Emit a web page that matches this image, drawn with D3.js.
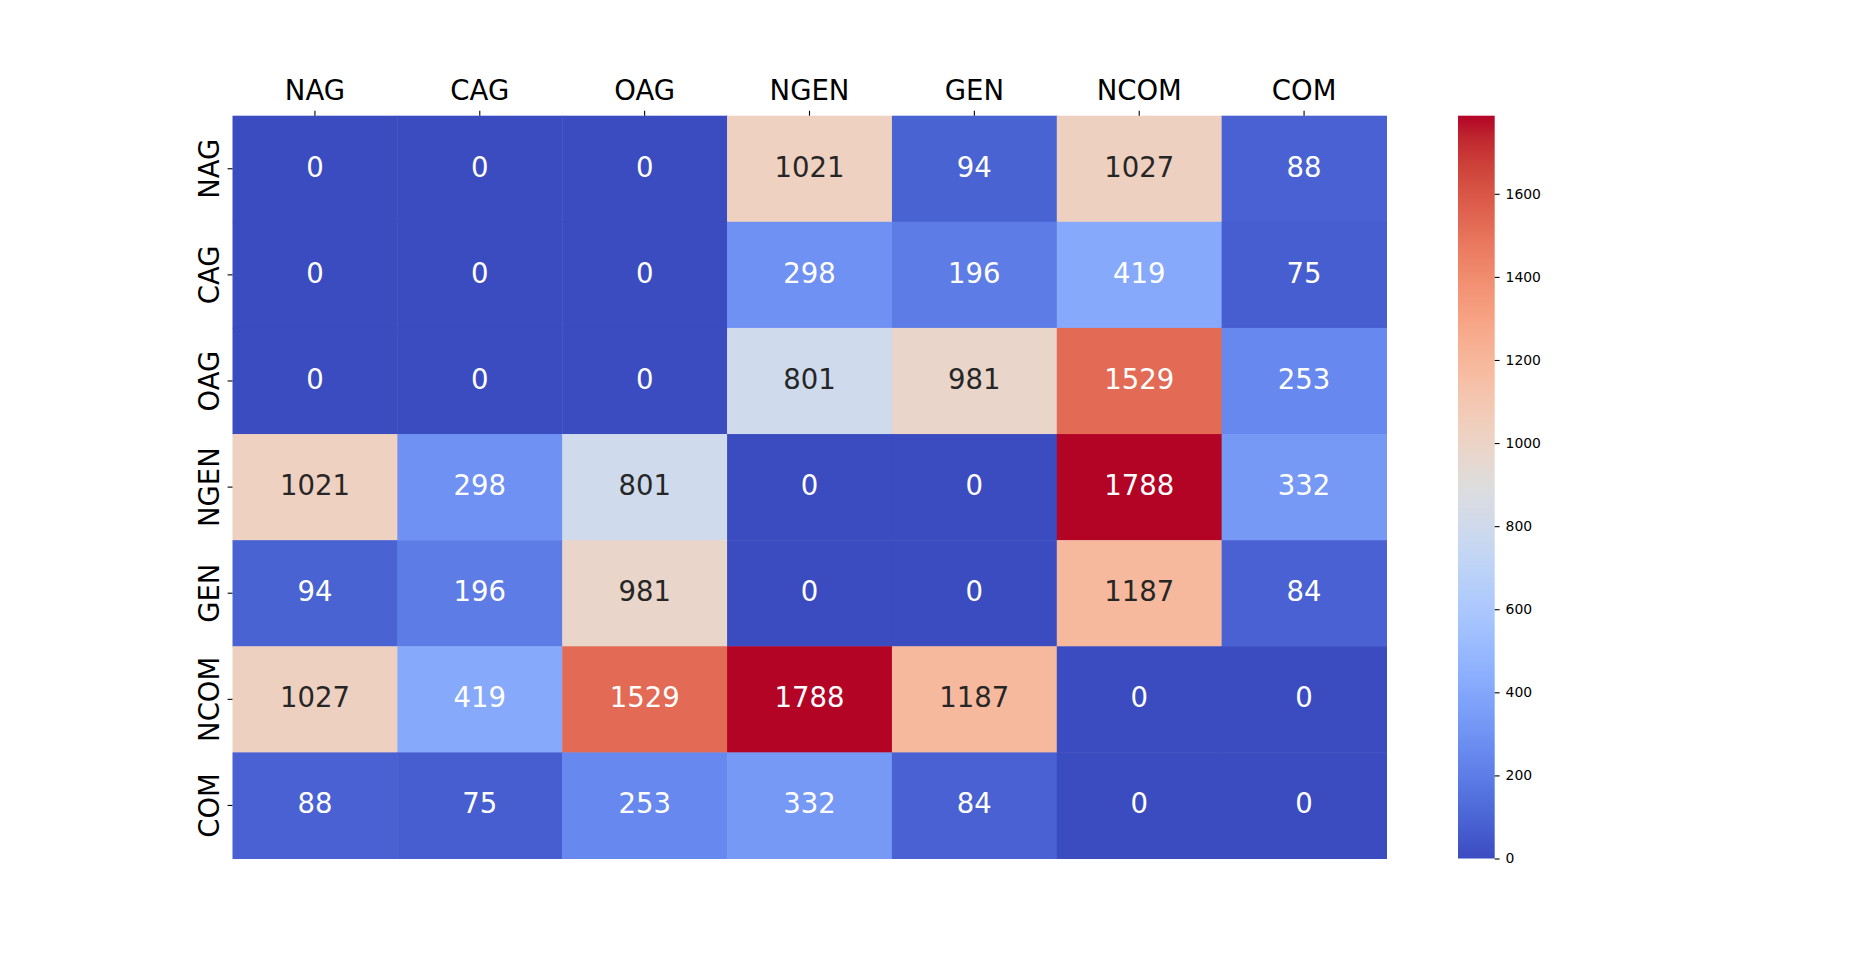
<!DOCTYPE html>
<html>
<head>
<meta charset="utf-8">
<script src="https://cdn.jsdelivr.net/npm/d3@7"></script>
<style>
  body { margin: 0; background: #fff; }
  text { font-family: "DejaVu Sans", sans-serif; }
</style>
</head>
<body>
<div id="canvas"></div>
<script>
var labels = ["NAG", "CAG", "OAG", "NGEN", "GEN", "NCOM", "COM"]

var rowNAG  = [0, 0, 0, 1021, 94, 1027, 88]
var rowCAG  = [0, 0, 0, 298, 196, 419, 75]
var rowOAG  = [0, 0, 0, 801, 981, 1529, 253]
var rowNGEN = [1021, 298, 801, 0, 0, 1788, 332]
var rowGEN  = [94, 196, 981, 0, 0, 1187, 84]
var rowNCOM = [1027, 419, 1529, 1788, 1187, 0, 0]
var rowCOM  = [88, 75, 253, 332, 84, 0, 0]

var colorbarTicks = [0, 200, 400, 600, 800, 1000, 1200, 1400, 1600]

var rows = [rowNAG, rowCAG, rowOAG, rowNGEN, rowGEN, rowNCOM, rowCOM]

// coolwarm (Moreland) control points, 33 steps
var coolwarm = [
  [59,76,192],[68,90,204],[77,104,215],[87,117,225],[98,130,234],[108,142,241],
  [119,154,247],[130,165,251],[141,176,254],[152,185,255],[163,194,255],[174,201,253],
  [184,208,249],[194,213,244],[204,217,238],[213,219,230],[221,221,221],[229,216,209],
  [236,211,197],[241,204,185],[245,196,173],[247,187,160],[247,177,148],[247,166,135],
  [244,154,123],[241,141,111],[236,127,99],[229,112,88],[222,96,77],[213,80,66],
  [203,62,56],[192,40,47],[180,4,38]
]

var width = 1860
var height = 965
// note: "top" is a reserved window prop, so use plot* names
var plotLeft = 232.5, plotRight = 1386.5, plotTop = 115.7, plotBottom = 858.5
var cbLeft = 1458, cbRight = 1494.7

var svg = d3.select("#canvas")
    .append("svg")
    .attr("width", width)
    .attr("height", height)

var vmin = 0
var vmax = d3.max(rows, function (r) { return d3.max(r) })

function cmapRaw(t) {
    t = Math.max(0, Math.min(1, t))
    var p = t * (coolwarm.length - 1)
    var i = Math.min(Math.floor(p), coolwarm.length - 2)
    var f = p - i
    var a = coolwarm[i], b = coolwarm[i + 1]
    return [a[0] + (b[0] - a[0]) * f, a[1] + (b[1] - a[1]) * f, a[2] + (b[2] - a[2]) * f]
}

// matplotlib-like 256 lookup
function cmap(v) {
    var t = (v - vmin) / (vmax - vmin)
    var idx = Math.min(255, Math.floor(t * 256))
    return cmapRaw(idx / 255)
}

function toCss(c) {
    return d3.rgb(Math.round(c[0]), Math.round(c[1]), Math.round(c[2])).formatHex()
}

function luminance(c) {
    var lin = c.map(function (x) {
        x = Math.round(x) / 255
        return x <= 0.03928 ? x / 12.92 : Math.pow((x + 0.055) / 1.055, 2.4)
    })
    return 0.2126 * lin[0] + 0.7152 * lin[1] + 0.0722 * lin[2]
}

var xScale = d3.scaleBand().domain(labels).range([plotLeft, plotRight])
var yScale = d3.scaleBand().domain(labels).range([plotTop, plotBottom])

var cells = []
rows.forEach(function (r, i) {
    r.forEach(function (v, j) {
        cells.push({ row: labels[i], col: labels[j], value: v })
    })
})

svg.selectAll(".cell")
    .data(cells)
    .enter()
    .append("rect")
    .attr("class", "cell")
    .attr("x", function (d) { return xScale(d.col) })
    .attr("y", function (d) { return yScale(d.row) })
    .attr("width", xScale.bandwidth() + 0.5)
    .attr("height", yScale.bandwidth() + 0.5)
    .attr("fill", function (d) { return toCss(cmap(d.value)) })

svg.selectAll(".annot")
    .data(cells)
    .enter()
    .append("text")
    .attr("class", "annot")
    .attr("x", function (d) { return xScale(d.col) + xScale.bandwidth() / 2 })
    .attr("y", function (d) { return yScale(d.row) + yScale.bandwidth() / 2 + 8 })
    .attr("text-anchor", "middle")
    .style("font-size", "27.5px")
    .attr("fill", function (d) { return luminance(cmap(d.value)) > 0.408 ? "#262626" : "#ffffff" })
    .text(function (d) { return d.value })

// top axis
var xAxis = svg.append("g")
    .attr("transform", "translate(0," + plotTop + ")")
    .call(d3.axisTop(xScale).tickSize(4.9).tickPadding(11))
xAxis.select(".domain").remove()
xAxis.selectAll(".tick line").attr("stroke", "#000").attr("stroke-width", 1.1)
xAxis.selectAll(".tick text")
    .attr("fill", "#000")
    .style("font-size", "27.5px")
    .style("font-family", "'DejaVu Sans', sans-serif")

// left axis, rotated labels
var yAxis = svg.append("g")
    .attr("transform", "translate(" + plotLeft + ",0)")
    .call(d3.axisLeft(yScale).tickSize(4.9))
yAxis.select(".domain").remove()
yAxis.selectAll(".tick line").attr("stroke", "#000").attr("stroke-width", 1.1)
yAxis.selectAll(".tick text").remove()
yAxis.selectAll(".tick").append("text")
    .attr("transform", "translate(-13.5,0) rotate(-90)")
    .attr("text-anchor", "middle")
    .attr("fill", "#000")
    .style("font-size", "27.5px")
    .style("font-family", "'DejaVu Sans', sans-serif")
    .text(function (d) { return d })

// colorbar
var defs = svg.append("defs")
var grad = defs.append("linearGradient")
    .attr("id", "cbgrad")
    .attr("x1", "0").attr("y1", "1").attr("x2", "0").attr("y2", "0")
grad.selectAll("stop")
    .data(d3.range(0, 65))
    .enter()
    .append("stop")
    .attr("offset", function (d) { return d / 64 })
    .attr("stop-color", function (d) { return toCss(cmapRaw(d / 64)) })

svg.append("rect")
    .attr("x", cbLeft)
    .attr("y", plotTop)
    .attr("width", cbRight - cbLeft)
    .attr("height", plotBottom - plotTop)
    .attr("fill", "url(#cbgrad)")

var cScale = d3.scaleLinear().domain([vmin, vmax]).range([plotBottom, plotTop])
var cAxis = svg.append("g")
    .attr("transform", "translate(" + cbRight + ",0)")
    .call(d3.axisRight(cScale).tickValues(colorbarTicks).tickSize(4.9).tickPadding(6).tickFormat(d3.format("d")))
cAxis.select(".domain").remove()
cAxis.selectAll(".tick line").attr("stroke", "#000").attr("stroke-width", 1.1)
cAxis.selectAll(".tick text")
    .attr("fill", "#000")
    .style("font-size", "13.9px")
    .style("font-family", "'DejaVu Sans', sans-serif")
</script>
</body>
</html>
